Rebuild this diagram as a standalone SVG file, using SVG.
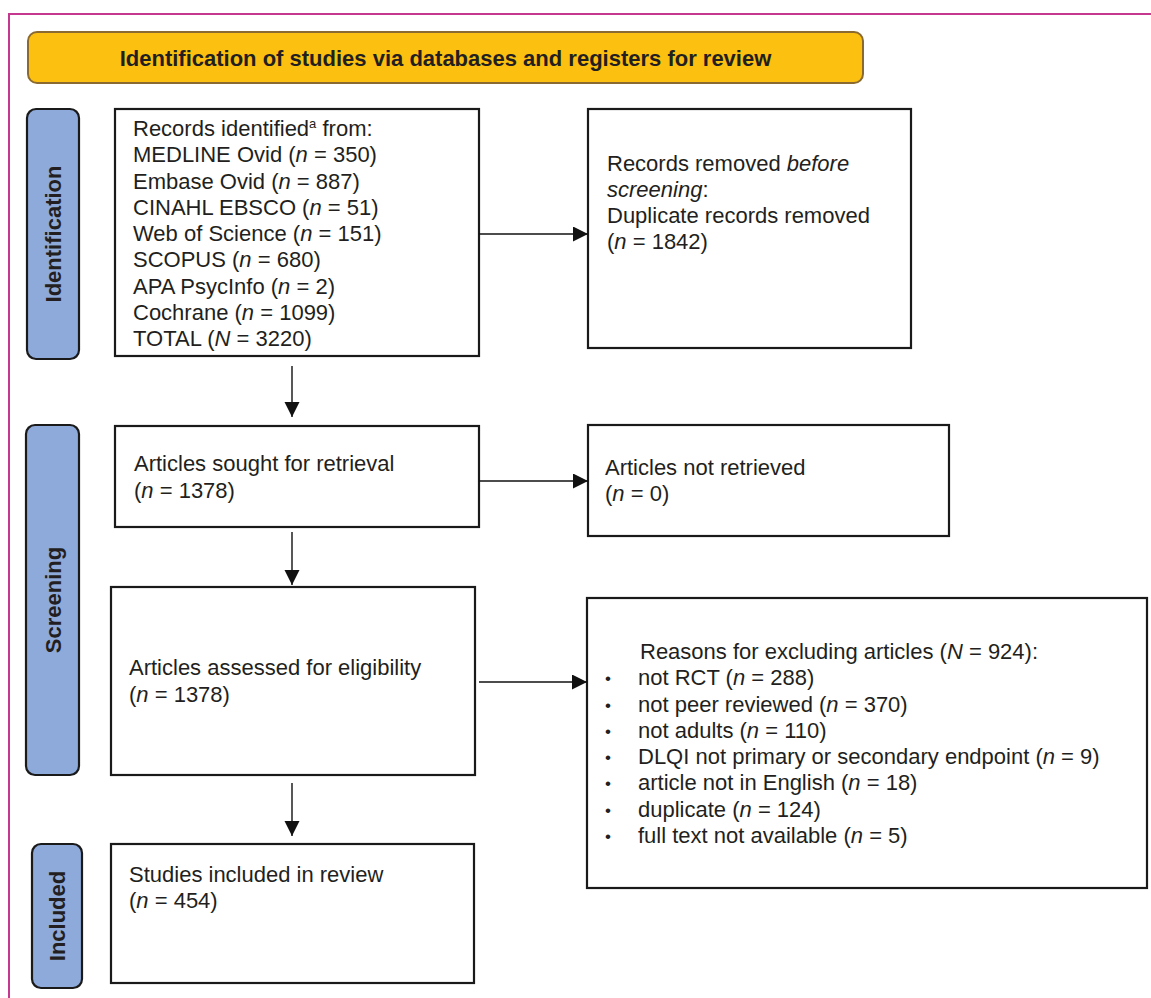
<svg xmlns="http://www.w3.org/2000/svg" width="1151" height="998" viewBox="0 0 1151 998">
<style>
text{font-family:"Liberation Sans",Arial,sans-serif;fill:#231f20;font-size:22px}
.box{fill:#fff;stroke:#1a1a1a;stroke-width:2.2}
.side{fill:#8eaadb;stroke:#1a1a1a;stroke-width:2.2}
.sidet{font-weight:bold;text-anchor:middle}
.bul{font-size:17px}
.conn{stroke:#111;stroke-width:1.4;fill:none}
</style>
<defs>
<marker id="ah" markerUnits="userSpaceOnUse" markerWidth="16" markerHeight="16" refX="15" refY="7.5" orient="auto">
<path d="M0,0 L15,7.5 L0,15 Z" fill="#111"/>
</marker>
</defs>
<rect x="9" y="14" width="1200" height="1100" fill="none" stroke="#c4388f" stroke-width="2"/>
<g id="banner">
<rect x="28" y="32" width="835" height="51" rx="9" fill="#fcc010" stroke="#8a6a30" stroke-width="2"/>
<text x="445.5" y="66" font-weight="bold" text-anchor="middle">Identification of studies via databases and registers for review</text>
</g>
<g id="label-identification">
<rect class="side" x="27" y="109" width="52" height="250" rx="9"/>
<text class="sidet" transform="translate(61,234) rotate(-90)">Identification</text>
</g>
<g id="label-screening">
<rect class="side" x="26" y="425" width="53" height="350" rx="9"/>
<text class="sidet" transform="translate(61,600) rotate(-90)">Screening</text>
</g>
<g id="label-included">
<rect class="side" x="32" y="844" width="50" height="144" rx="9"/>
<text class="sidet" transform="translate(65,916) rotate(-90)">Included</text>
</g>
<g id="records-identified">
<rect class="box" x="115" y="109" width="364" height="247"/>
<text x="133" y="136">Records identified<tspan font-size="13" dy="-8">a</tspan><tspan dy="8"> from:</tspan></text>
<text x="133" y="162">MEDLINE Ovid (<tspan font-style="italic">n</tspan> = 350)</text>
<text x="133" y="188.5">Embase Ovid (<tspan font-style="italic">n</tspan> = 887)</text>
<text x="133" y="214.5">CINAHL EBSCO (<tspan font-style="italic">n</tspan> = 51)</text>
<text x="133" y="241">Web of Science (<tspan font-style="italic">n</tspan> = 151)</text>
<text x="133" y="267">SCOPUS (<tspan font-style="italic">n</tspan> = 680)</text>
<text x="133" y="293.5">APA PsycInfo (<tspan font-style="italic">n</tspan> = 2)</text>
<text x="133" y="320">Cochrane (<tspan font-style="italic">n</tspan> = 1099)</text>
<text x="133" y="346">TOTAL (<tspan font-style="italic">N</tspan> = 3220)</text>
</g>
<g id="records-removed">
<rect class="box" x="588" y="109" width="323" height="239"/>
<text x="607" y="171">Records removed <tspan font-style="italic">before</tspan></text>
<text x="607" y="197"><tspan font-style="italic">screening</tspan>:</text>
<text x="607" y="223">Duplicate records removed</text>
<text x="607" y="249">(<tspan font-style="italic">n</tspan> = 1842)</text>
</g>
<g id="articles-sought">
<rect class="box" x="115" y="426" width="364" height="101"/>
<text x="134" y="471">Articles sought for retrieval</text>
<text x="134" y="498">(<tspan font-style="italic">n</tspan> = 1378)</text>
</g>
<g id="articles-not-retrieved">
<rect class="box" x="588" y="425" width="361" height="111"/>
<text x="605" y="475">Articles not retrieved</text>
<text x="605" y="501">(<tspan font-style="italic">n</tspan> = 0)</text>
</g>
<g id="articles-assessed">
<rect class="box" x="111" y="587" width="364" height="188"/>
<text x="129" y="675">Articles assessed for eligibility</text>
<text x="129" y="702">(<tspan font-style="italic">n</tspan> = 1378)</text>
</g>
<g id="reasons-excluded">
<rect class="box" x="587" y="598" width="560" height="290"/>
<text x="640" y="659">Reasons for excluding articles (<tspan font-style="italic">N</tspan> = 924):</text>
<g>
<text class="bul" x="605" y="684">•</text><text x="638" y="685">not RCT (<tspan font-style="italic">n</tspan> = 288)</text>
<text class="bul" x="605" y="710.5">•</text><text x="638" y="711.5">not peer reviewed (<tspan font-style="italic">n</tspan> = 370)</text>
<text class="bul" x="605" y="736.5">•</text><text x="638" y="737.5">not adults (<tspan font-style="italic">n</tspan> = 110)</text>
<text class="bul" x="605" y="762.5">•</text><text x="638" y="763.5">DLQI not primary or secondary endpoint (<tspan font-style="italic">n</tspan> = 9)</text>
<text class="bul" x="605" y="789">•</text><text x="638" y="790">article not in English (<tspan font-style="italic">n</tspan> = 18)</text>
<text class="bul" x="605" y="815.5">•</text><text x="638" y="816.5">duplicate (<tspan font-style="italic">n</tspan> = 124)</text>
<text class="bul" x="605" y="841.5">•</text><text x="638" y="842.5">full text not available (<tspan font-style="italic">n</tspan> = 5)</text>
</g>
</g>
<g id="studies-included">
<rect class="box" x="111" y="844" width="363" height="139"/>
<text x="129" y="882">Studies included in review</text>
<text x="129" y="908">(<tspan font-style="italic">n</tspan> = 454)</text>
</g>
<g id="connectors">
<line class="conn" x1="479" y1="234" x2="588" y2="234" marker-end="url(#ah)"/>
<line class="conn" x1="292" y1="366" x2="292" y2="417" marker-end="url(#ah)"/>
<line class="conn" x1="479" y1="481" x2="588" y2="481" marker-end="url(#ah)"/>
<line class="conn" x1="292" y1="532" x2="292" y2="585" marker-end="url(#ah)"/>
<line class="conn" x1="479" y1="682" x2="587" y2="682" marker-end="url(#ah)"/>
<line class="conn" x1="292" y1="783" x2="292" y2="836" marker-end="url(#ah)"/>
</g>
</svg>
